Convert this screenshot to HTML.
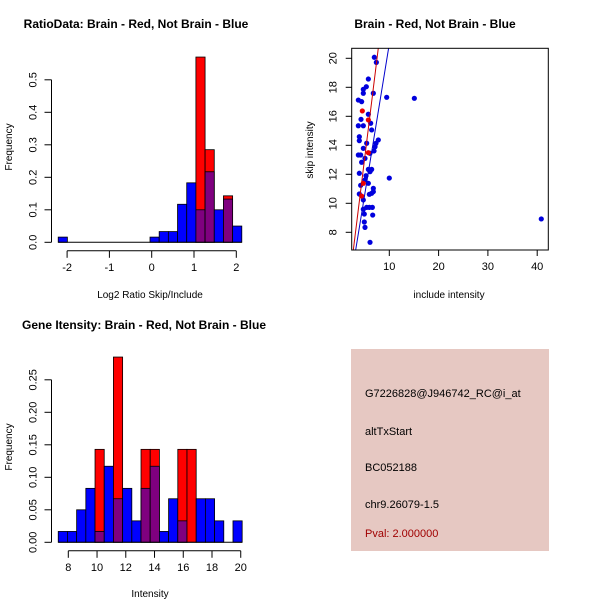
<!DOCTYPE html>
<html><head><meta charset="utf-8">
<style>
html,body{margin:0;padding:0;background:#fff;}
svg{display:block;font-family:"Liberation Sans",sans-serif;}
</style></head>
<body>
<svg id="chart" width="600" height="600" viewBox="0 0 600 600">
  <rect x="0" y="0" width="600" height="600" fill="#fff"/>
  <text x="136" y="28" font-size="12" font-weight="bold" text-anchor="middle">RatioData: Brain - Red, Not Brain - Blue</text>
  <text x="435" y="28" font-size="12" font-weight="bold" text-anchor="middle">Brain - Red, Not Brain - Blue</text>
  <text x="144" y="329" font-size="12" font-weight="bold" text-anchor="middle">Gene Itensity: Brain - Red, Not Brain - Blue</text>
  <g id="g1"></g>
  <g id="g2"></g>
  <g id="g3"></g>
  <g>
    <rect x="351" y="349" width="198" height="202" fill="#e6c8c2"/>
    <text x="365" y="397" font-size="11">G7226828@J946742_RC@i_at</text>
    <text x="365" y="435" font-size="11">altTxStart</text>
    <text x="365" y="471" font-size="11">BC052188</text>
    <text x="365" y="508" font-size="11">chr9.26079-1.5</text>
    <text x="365" y="537" font-size="11" fill="#a00000">Pval: 2.000000</text>
  </g>
</svg>
<script>
// ---- Ratio histogram data ----
const ratioStart = -2.21, ratioWidth = 0.217;
const ratioBlue = [0.016,0,0,0,0,0,0,0,0,0,0.016,0.033,0.033,0.117,0.183,0.1,0.217,0.1,0.133,0.05];
const ratioRed  = [0,0,0,0,0,0,0,0,0,0,0,0,0,0,0,0.57,0.285,0,0.143,0];
const ratioXTicks = [-2,-1,0,1,2];
const ratioYTicks = [0,0.1,0.2,0.3,0.4,0.5];
// ---- Scatter data ----
const brainX = [4.53,5.75,5.75,4.73,4.39];
const brainY = [16.37,15.75,13.49,11.38,10.5];
const otherX = [6.96,7.37,5.75,5.34,4.73,4.73,6.76,3.72,4.39,9.47,15.08,5.75,4.26,6.22,3.72,4.73,6.42,3.92,3.92,7.77,7.30,7.10,6.90,5.41,4.73,4.19,3.72,6.09,5.07,4.39,5.75,6.42,6.09,3.92,5.27,5.07,5.75,4.19,6.76,6.76,6.42,3.92,5.95,4.73,10.0,5.41,5.95,6.56,4.73,4.93,6.63,4.93,5.07,6.09,40.83];
const otherY = [20.07,19.72,18.57,18.04,17.86,17.59,17.59,17.12,17.01,17.31,17.24,16.14,15.79,15.52,15.35,15.35,15.06,14.59,14.32,14.37,14.14,13.9,13.61,14.14,13.79,13.33,13.33,13.45,13.1,12.83,12.34,12.34,12.18,12.07,11.9,11.61,11.38,11.24,11.03,10.8,10.69,10.64,10.62,10.23,11.74,9.72,9.72,9.72,9.59,9.26,9.19,8.71,8.34,7.31,8.92];
const fitRed = [-0.64, 2.748];   // intercept, slope
const fitBlue = [0.16, 2.083];
const scXTicks = [10,20,30,40];
const scYTicks = [8,10,12,14,16,18,20];
// ---- Intensity histogram data ----
const intStart = 7.3, intWidth = 0.64;
const intBlue = [0.0167,0.0167,0.05,0.083,0.0167,0.117,0.067,0.083,0.033,0.083,0.117,0.0167,0.067,0.033,0,0.067,0.067,0.033,0,0.033];
const intRed  = [0,0,0,0,0.143,0,0.285,0,0,0.143,0.143,0,0,0.143,0.143,0,0,0,0,0];
const intXTicks = [8,10,12,14,16,18,20];
const intYTicks = [0,0.05,0.1,0.15,0.2,0.25];

const NS = "http://www.w3.org/2000/svg";
function mk(parent, tag, attrs, txt){
  const e = document.createElementNS(NS, tag);
  for (const k in attrs) e.setAttribute(k, attrs[k]);
  if (txt !== undefined) e.textContent = txt;
  parent.appendChild(e);
  return e;
}

function hist(g, o){
  const sx = v => o.x0 + (v - o.xa) * o.kx;
  const sy = v => o.y0 - v * o.ky;
  for (let i = 0; i < o.blue.length; i++){
    const a = sx(o.start + i*o.w), b = sx(o.start + (i+1)*o.w);
    const bv = o.blue[i], rv = o.red[i];
    const ov = Math.min(bv, rv);
    if (rv > 0){
      const r = mk(g,'rect',{x:a,y:sy(rv),width:b-a,height:sy(0)-sy(rv),fill:'#ff0000',stroke:'#000','stroke-width':0.8});
      
      
    }
    if (bv > 0 && bv > rv){
      const r = mk(g,'rect',{x:a,y:sy(bv),width:b-a,height:sy(0)-sy(bv),fill:'#0000ff',stroke:'#000','stroke-width':0.8});
      
      
    }
    if (ov > 0){
      const r = mk(g,'rect',{x:a,y:sy(ov),width:b-a,height:sy(0)-sy(ov),fill:'#7f007f',stroke:'#000','stroke-width':0.8});
      
      
    }
  }
  mk(g,'line',{x1:sx(o.start),x2:sx(o.start+o.blue.length*o.w),y1:sy(0),y2:sy(0),stroke:'#000','stroke-width':1});
  // y axis
  const yt = o.yticks;
  const ax = o.ax;
  mk(g,'line',{x1:ax,x2:ax,y1:sy(yt[0]),y2:sy(yt[yt.length-1]),stroke:'#000'});
  yt.forEach(v=>{
    mk(g,'line',{x1:ax-7,x2:ax,y1:sy(v),y2:sy(v),stroke:'#000'});
    const t = mk(g,'text',{x:0,y:0,'font-size':11,'text-anchor':'middle',transform:`translate(${ax-15},${sy(v)}) rotate(-90)`}, o.yfmt(v));
    
    
  });
  // x axis
  const xt = o.xticks;
  const ay = o.y0 + 8.5;
  mk(g,'line',{x1:sx(xt[0]),x2:sx(xt[xt.length-1]),y1:ay,y2:ay,stroke:'#000'});
  xt.forEach(v=>{
    mk(g,'line',{x1:sx(v),x2:sx(v),y1:ay,y2:ay+7,stroke:'#000'});
    const t = mk(g,'text',{x:sx(v),y:ay+20,'font-size':11,'text-anchor':'middle'}, String(v));
    
    
  });
  const yl = mk(g,'text',{x:0,y:0,'font-size':10,'text-anchor':'middle',transform:`translate(12,${o.ylabY}) rotate(-90)`},'Frequency');
  
  
  const xl = mk(g,'text',{x:150,y:o.xlabY,'font-size':10,'text-anchor':'middle'},o.xlab);
  
  
}

hist(document.getElementById('g1'), {start:ratioStart,w:ratioWidth,blue:ratioBlue,red:ratioRed,
  xa:0,x0:151.7,kx:42.3,y0:242.3,ky:325,ax:51.5,xticks:ratioXTicks,yticks:ratioYTicks,
  yfmt:v=>v.toFixed(1),xlab:'Log2 Ratio Skip/Include',xlabY:298,ylabY:147});
hist(document.getElementById('g3'), {start:intStart,w:intWidth,blue:intBlue,red:intRed,
  xa:8,x0:68.3,kx:14.37,y0:542.3,ky:650,ax:51.5,xticks:intXTicks,yticks:intYTicks,
  yfmt:v=>v.toFixed(2),xlab:'Intensity',xlabY:597,ylabY:447});

// scatter
(function(){
  const g = document.getElementById('g2');
  const L=351.7,R=548.3,T=48.3,B=250;
  const sx = v => 340 + v*4.93;
  const sy = v => 58.3 + (20 - v)*14.5;
  mk(g,'defs',{}).innerHTML = '<clipPath id="cp"><rect x="'+L+'" y="'+T+'" width="'+(R-L)+'" height="'+(B-T)+'"/></clipPath>';
  const cg = mk(g,'g',{'clip-path':'url(#cp)'});
  otherX.forEach((x,i)=>{
    const c = mk(cg,'circle',{cx:sx(x),cy:sy(otherY[i]),r:2.6,fill:'#0000dd'});
    
    
  });
  brainX.forEach((x,i)=>{
    const c = mk(cg,'circle',{cx:sx(x),cy:sy(brainY[i]),r:2.6,fill:'#ee0000'});
    
    
  });
  [[fitRed,'#cc0000','red-fit-line'],[fitBlue,'#0000cc','blue-fit-line']].forEach(([f,col,nm])=>{
    const y1=5,y2=22;
    const l = mk(cg,'line',{x1:sx((y1-f[0])/f[1]),y1:sy(y1),x2:sx((y2-f[0])/f[1]),y2:sy(y2),stroke:col,'stroke-width':1});
    
    
  });
  mk(g,'rect',{x:L,y:T,width:R-L,height:B-T,fill:'none',stroke:'#000'});
  scXTicks.forEach(v=>{
    mk(g,'line',{x1:sx(v),x2:sx(v),y1:B,y2:B+6,stroke:'#000'});
    const t = mk(g,'text',{x:sx(v),y:B+20,'font-size':11,'text-anchor':'middle','fill':'#000'},String(v));
    
    
  });
  scYTicks.forEach(v=>{
    mk(g,'line',{x1:L-6,x2:L,y1:sy(v),y2:sy(v),stroke:'#000'});
    const t = mk(g,'text',{x:0,y:0,'font-size':11,'text-anchor':'middle',transform:`translate(${L-15},${sy(v)}) rotate(-90)`},String(v));
    
    
  });
  const xl = mk(g,'text',{x:449,y:298,'font-size':10,'text-anchor':'middle'},'include intensity');
  
  
  const yl = mk(g,'text',{x:0,y:0,'font-size':10,'text-anchor':'middle',transform:'translate(313,150) rotate(-90)'},'skip intensity');
  
  
})();
</script>
</body></html>
